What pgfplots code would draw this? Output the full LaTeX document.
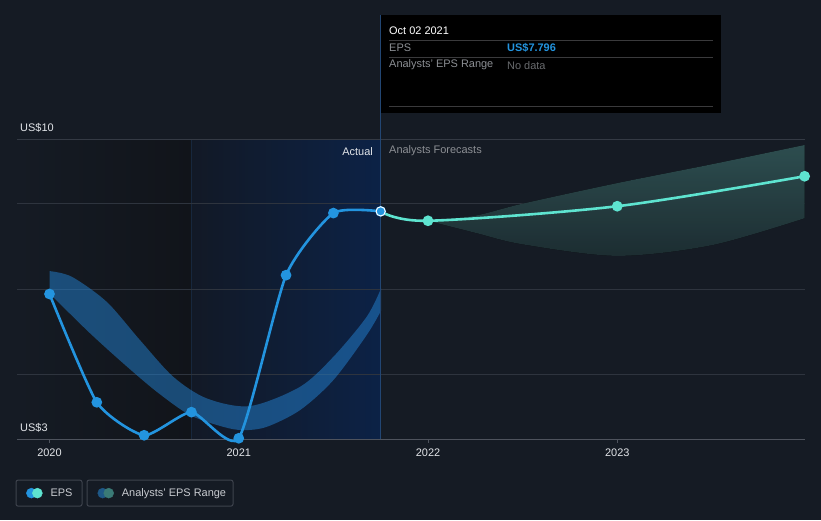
\documentclass[border=0pt]{standalone}
\usepackage{pgfplots}
\pgfplotsset{compat=1.18}
\usepgfplotslibrary{fillbetween}
\usepackage{fontspec}
\setmainfont{Liberation Sans}
\definecolor{bg}{RGB}{21,27,36}
\definecolor{gridc}{RGB}{46,52,62}
\definecolor{basec}{RGB}{78,83,93}
\definecolor{epsblue}{RGB}{35,148,223}
\definecolor{epsteal}{RGB}{94,228,208}
\definecolor{pastband}{RGB}{35,130,210}
\definecolor{fcTop}{RGB}{50,86,88}
\definecolor{fcBot}{RGB}{32,50,55}
\definecolor{darkr}{RGB}{17,20,26}
\definecolor{blueL}{RGB}{18,25,38}
\definecolor{blueR}{RGB}{12,34,70}
\definecolor{vline}{RGB}{34,70,115}
\definecolor{tickc}{RGB}{225,228,232}
\definecolor{grayt}{RGB}{140,143,148}
\definecolor{darkgrayt}{RGB}{105,107,110}
\definecolor{sepc}{RGB}{58,58,60}
\definecolor{legbox}{RGB}{62,67,77}
\definecolor{legt}{RGB}{200,203,208}
\definecolor{rngblue}{RGB}{30,88,135}
\definecolor{rngteal}{RGB}{58,122,118}
\newcommand\fs{\fontsize{11}{13}\selectfont}
\begin{document}
\begin{tikzpicture}
\begin{axis}[
  set layers,
  width=788bp, height=299.7bp, scale only axis,
  xmin=2019.8283, xmax=2023.992, ymin=3, ymax=10,
  clip=false,
  axis line style={draw=none},
  xtick={2020,2021,2022,2023},
  xticklabels={2020,2021,2022,2023},
  ytick={3,10}, yticklabels={US\$3,US\$10},
  xtick pos=lower, ytick pos=left,
  major tick length=4bp,
  tick align=outside,
  xtick style={draw=basec, line width=0.8bp},
  ytick style={draw=none},
  xticklabel style={font=\fs, text=tickc, yshift=-2bp},
  yticklabel style={font=\fs, text=tickc, anchor=south west, inner sep=0pt, xshift=7bp, yshift=6.5bp},
  /pgf/number format/assume math mode=true,
  legend style={at={(axis description cs:0.0114,-0.1802)}, anchor=west, draw=none, fill=none,
    legend columns=2, font=\fs, text=legt, inner sep=0pt,
    nodes={inner sep=0pt},
    /tikz/every odd column/.append style={column sep=8bp},
    /tikz/every even column/.append style={column sep=25bp}},
]
\begin{pgfonlayer}{axis background}
% page background
\fill[bg] (axis cs:2019.73844,1.10748) rectangle (axis cs:2024.07661,13.25701);
% background regions
\fill[left color=bg, right color=darkr] (axis cs:2019.8283,3) rectangle (axis cs:2020.75,10);
\fill[left color=blueL, right color=blueR] (axis cs:2020.75,3) rectangle (axis cs:2021.75,10);
\draw[blueL!70!vline, line width=0.6bp] (axis cs:2020.75,3) -- (axis cs:2020.75,10);
% grid
\draw[gridc, line width=1bp] (axis cs:2019.8283,4.5) -- (axis cs:2023.992,4.5);
\draw[gridc, line width=1bp] (axis cs:2019.8283,6.5) -- (axis cs:2023.992,6.5);
\draw[gridc, line width=1bp] (axis cs:2019.8283,8.5) -- (axis cs:2023.992,8.5);
\draw[gridc!80!basec, line width=1bp] (axis cs:2019.8283,10) -- (axis cs:2023.992,10);
\draw[basec, line width=1.2bp] (axis cs:2019.8283,3) -- (axis cs:2023.992,3);
\end{pgfonlayer}
% past analysts band
\addplot[name path=pu, draw=none, smooth, forget plot] coordinates {
 (2020.000,6.925) (2020.118,6.792) (2020.302,6.208) (2020.478,5.313) (2020.654,4.456)
 (2020.831,3.951) (2021.059,3.771) (2021.324,4.222) (2021.500,4.923) (2021.676,5.857)
 (2021.752,6.521)};
\addplot[name path=pl, draw=none, smooth, forget plot] coordinates {
 (2020.000,6.404) (2020.206,5.507) (2020.390,4.769) (2020.567,4.105) (2020.742,3.561)
 (2020.918,3.287) (2021.024,3.210) (2021.148,3.287) (2021.324,3.678) (2021.500,4.379)
 (2021.676,5.430) (2021.752,6.000)};
\addplot[fill=pastband, fill opacity=0.5, draw=none, forget plot] fill between[of=pu and pl];
% forecast band
\addplot[name path=fu, draw=none, smooth, forget plot] coordinates {
 (2022.00,8.10) (2022.25,8.22) (2022.50,8.50) (2023.00,8.98) (2023.50,9.42) (2023.99,9.87)};
\addplot[name path=fl, draw=none, smooth, forget plot] coordinates {
 (2022.00,8.10) (2022.25,7.82) (2022.50,7.55) (2023.00,7.28) (2023.50,7.53) (2023.99,8.16)};
\addplot[top color=fcTop, bottom color=fcBot, fill opacity=0.9, draw=none, forget plot] fill between[of=fu and fl];
% divider
\draw[vline, line width=1bp] (axis cs:2021.75,3) -- (axis cs:2021.75,12.907);
% forecast EPS
\addplot[epsteal, line width=2.6bp, smooth, tension=0.5, mark=*, mark indices={2,3,4}, mark size=4bp,
  mark options={fill=epsteal, draw=none}, forget plot] coordinates {
 (2021.75,8.32) (2022.00,8.10) (2023.00,8.44) (2023.99,9.14)};
% actual EPS
\addplot[epsblue, line width=2.6bp, smooth, tension=0.35, mark=*, mark size=4bp,
  mark options={fill=epsblue, draw=none}, forget plot] coordinates {
 (2020.00,6.39) (2020.25,3.86) (2020.50,3.09) (2020.75,3.63) (2021.00,3.02)
 (2021.25,6.83) (2021.50,8.28) (2021.75,8.32)};
\addplot[only marks, mark=*, mark size=4.6bp, mark options={fill=epsblue, draw=white, line width=1bp}, forget plot]
 coordinates {(2021.75,8.32)};
% legend
\addlegendimage{legend image code/.code={\fill[epsblue] (5bp,0) circle (5bp); \fill[epsteal] (11bp,0) circle (5bp);}}
\addlegendentry{EPS}
\addlegendimage{legend image code/.code={\fill[rngblue] (5bp,0) circle (5bp); \fill[rngteal] (11bp,0) circle (5bp);}}
\addlegendentry{Analysts' EPS Range}
\end{axis}
\begin{scope}[x=1bp, y=-1bp, shift={(-17bp,439bp)}]
\node[anchor=east, inner sep=0pt, text=tickc, font=\fs] at (373,151) {Actual};
\node[anchor=west, inner sep=0pt, text=grayt, font=\fs] at (389,151) {Analysts Forecasts};
% tooltip
\fill[black] (381,15) rectangle (721,113);
\draw[sepc, line width=1bp] (389,40) -- (713,40);
\draw[sepc, line width=1bp] (389,57) -- (713,57);
\draw[sepc, line width=1bp] (389,106) -- (713,106);
\node[anchor=west, inner sep=0pt, text=white, font=\fs] at (389,31) {Oct 02 2021};
\node[anchor=west, inner sep=0pt, text=grayt, font=\fs] at (389,48) {EPS};
\node[anchor=west, inner sep=0pt, text=epsblue, font=\fs\bfseries] at (507,48) {US\$7.796};
\node[anchor=west, inner sep=0pt, text=grayt, font=\fs] at (389,65) {Analysts' EPS Range};
\node[anchor=west, inner sep=0pt, text=darkgrayt, font=\fs] at (507,65) {No data};
% legend boxes
\draw[legbox, line width=1bp, rounded corners=2bp] (16,480) rectangle (82,506);
\draw[legbox, line width=1bp, rounded corners=2bp] (87,480) rectangle (233,506);
\end{scope}
\end{tikzpicture}
\end{document}
